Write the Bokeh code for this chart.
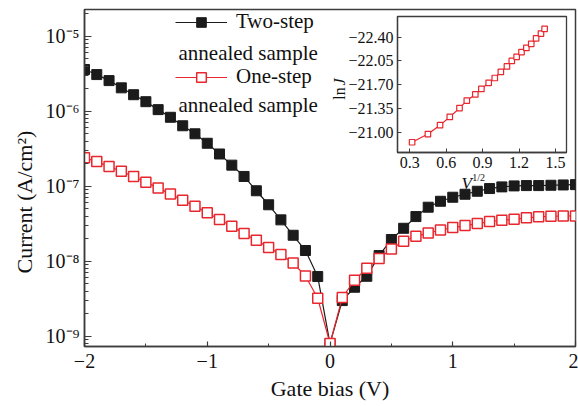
from bokeh.plotting import figure
from bokeh.models import (Range1d, FixedTicker, CustomJSTickFormatter, Legend, LegendItem,
                          Label, GridBox, Title)
from bokeh.embed import file_html
from bokeh.resources import INLINE
import math

# ---------------- data ----------------
bias = [-2.0, -1.9, -1.8, -1.7, -1.6, -1.5, -1.4, -1.3, -1.2, -1.1, -1.0,
        -0.9, -0.8, -0.7, -0.6, -0.5, -0.4, -0.3, -0.2, -0.1, 0.0,
        0.1, 0.2, 0.3, 0.4, 0.5, 0.6, 0.7, 0.8, 0.9, 1.0,
        1.1, 1.2, 1.3, 1.4, 1.5, 1.6, 1.7, 1.8, 1.9, 2.0]
two_step = [3.60e-6, 3.08e-6, 2.56e-6, 2.05e-6, 1.66e-6, 1.34e-6, 1.05e-6, 8.3e-7, 6.4e-7, 5.0e-7,
            3.74e-7, 2.69e-7, 1.91e-7, 1.35e-7, 8.7e-8, 5.66e-8, 3.56e-8, 2.22e-8, 1.39e-8, 6.25e-9,
            8.0e-10,
            2.99e-9, 4.5e-9, 6.3e-9, 1.19e-8, 1.95e-8, 2.75e-8, 3.94e-8, 5.25e-8, 6.3e-8, 7.13e-8,
            7.82e-8, 8.57e-8, 9.31e-8, 9.8e-8, 1.01e-7, 1.02e-7, 1.02e-7, 1.03e-7, 1.04e-7, 1.05e-7]
one_step = [2.39e-7, 2.13e-7, 1.83e-7, 1.58e-7, 1.35e-7, 1.13e-7, 9.5e-8, 7.85e-8, 6.49e-8, 5.4e-8,
            4.42e-8, 3.6e-8, 2.92e-8, 2.34e-8, 1.9e-8, 1.53e-8, 1.23e-8, 9.46e-9, 6.35e-9, 3.21e-9,
            8.0e-10,
            3.28e-9, 5.58e-9, 8.07e-9, 1.09e-8, 1.46e-8, 1.85e-8, 2.15e-8, 2.38e-8, 2.61e-8, 2.81e-8,
            2.99e-8, 3.18e-8, 3.38e-8, 3.52e-8, 3.63e-8, 3.79e-8, 3.91e-8, 3.98e-8, 4.01e-8, 4.02e-8]

sqrt_v = [0.32, 0.45, 0.55, 0.63, 0.71, 0.77, 0.84, 0.89, 0.95, 1.00,
          1.05, 1.10, 1.14, 1.18, 1.22, 1.26, 1.30, 1.34, 1.38, 1.41]
ln_j = [-20.86, -20.98, -21.11, -21.23, -21.36, -21.47, -21.56, -21.64, -21.73, -21.80,
        -21.89, -21.97, -22.05, -22.11, -22.18, -22.24, -22.30, -22.38, -22.45, -22.52]

x_ticks = [-2, -1, 0, 1, 2]
x_tick_labels = ["\u22122", "\u22121", "0", "1", "2"]
x_minor = [-1.5, -0.5, 0.5, 1.5]
y_ticks = [1e-9, 1e-8, 1e-7, 1e-6, 1e-5]
y_tick_labels = ["10\u207b\u2079", "10\u207b\u2078", "10\u207b\u2077", "10\u207b\u2076", "10\u207b\u2075"]
inset_x_ticks = [0.3, 0.6, 0.9, 1.2, 1.5]
inset_x_labels = ["0.3", "0.6", "0.9", "1.2", "1.5"]
inset_y_ticks = [-22.40, -22.05, -21.70, -21.35, -21.00]
inset_y_labels = ["\u221222.40", "\u221222.05", "\u221221.70", "\u221221.35", "\u221221.00"]

# ---------------- style ----------------
SERIF = "Liberation Serif"
BLACK = "#1b1b1b"
RED = "#e8262d"
AXIS = "#3c3c3c"
TXT = "#111111"

LOOKUP = """
for (let i = 0; i < vals.length; i++) {
  if (Math.abs(vals[i] - tick) < 1e-9 * Math.max(1, Math.abs(tick)) ||
      (tick > 0 && vals[i] > 0 && Math.abs(Math.log10(tick) - Math.log10(vals[i])) < 1e-6)) {
    return labels[i];
  }
}
return "";
"""

p = figure(width=578, height=406, x_range=Range1d(-2, 2), y_range=Range1d(7.3e-10, 2.27e-5),
           y_axis_type="log", output_backend="svg", toolbar_location=None,
           min_border_left=84, min_border_right=3, min_border_top=9, min_border_bottom=60)
p.grid.visible = False
p.outline_line_color = AXIS
p.outline_line_width = 1.5

decade_minor = [m * 10.0 ** e for e in range(-10, -4) for m in range(2, 10)]
p.xaxis.ticker = FixedTicker(ticks=x_ticks, minor_ticks=x_minor)
p.xaxis.formatter = CustomJSTickFormatter(args=dict(vals=x_ticks, labels=x_tick_labels), code=LOOKUP)
p.yaxis.ticker = FixedTicker(ticks=y_ticks, minor_ticks=decade_minor)
p.yaxis.formatter = CustomJSTickFormatter(args=dict(vals=y_ticks, labels=y_tick_labels), code=LOOKUP)

for ax in (p.xaxis[0], p.yaxis[0]):
    ax.axis_line_color = AXIS
    ax.axis_line_width = 1.5
    ax.major_tick_line_color = AXIS
    ax.minor_tick_line_color = AXIS
    ax.major_tick_line_width = 1.2
    ax.minor_tick_line_width = 1.0
    ax.major_tick_out = 0
    ax.minor_tick_out = 0
    ax.major_label_text_font = SERIF
    ax.major_label_text_font_size = "20px"
    ax.major_label_text_color = TXT
    ax.axis_label_text_font = SERIF
    ax.axis_label_text_font_size = "22px"
    ax.axis_label_text_font_style = "normal"
    ax.axis_label_text_color = TXT

p.xaxis.major_tick_in = 5
p.xaxis.minor_tick_in = 3
p.yaxis.major_tick_in = 7
p.yaxis.minor_tick_in = 4
p.xaxis.major_label_standoff = 7
p.yaxis.major_label_standoff = 5
p.xaxis.axis_label = "Gate bias (V)"
p.xaxis.axis_label_standoff = 5

# y-axis title, placed lower than centre as in the reference
p.add_layout(Title(text="Current (A/cm\u00b2)", align="left", offset=73, standoff=12,
                   text_font=SERIF, text_font_size="22px", text_font_style="normal",
                   text_color=TXT), "left")

r1l = p.line(bias, two_step, line_color=BLACK, line_width=1.2)
r1m = p.scatter(bias, two_step, marker="square", size=10, fill_color=BLACK, line_color=BLACK)
r2l = p.line(bias, one_step, line_color=RED, line_width=1.2)
r2m = p.scatter(bias, one_step, marker="square", size=10, fill_color="white",
                line_color=RED, line_width=1.5)

legend = Legend(items=[LegendItem(label="Two-step", renderers=[r1l, r1m]),
                       LegendItem(label="One-step", renderers=[r2l, r2m])],
                location=(91, 257), orientation="vertical",
                glyph_width=52, glyph_height=24, label_height=24, label_standoff=9,
                spacing=30, padding=0, margin=0,
                border_line_alpha=0, background_fill_alpha=0,
                label_text_font=SERIF, label_text_font_size="21px", label_text_color=TXT)
p.add_layout(legend, "center")
for yy in (293.8, 241.3):
    p.add_layout(Label(x=94, y=yy, x_units="screen", y_units="screen", text="annealed sample",
                       text_font=SERIF, text_font_size="21px", text_color=TXT,
                       text_baseline="middle", text_align="left"))

# inset axis titles (drawn on the main figure, where they lie inside its frame)
p.add_layout(Label(x=377, y=162.7, x_units="screen", y_units="screen", text="V",
                   text_font=SERIF, text_font_size="17px", text_font_style="italic",
                   text_color=TXT, text_baseline="alphabetic"))
p.add_layout(Label(x=387.7, y=169.3, x_units="screen", y_units="screen", text="1/2",
                   text_font=SERIF, text_font_size="10px", text_color=TXT,
                   text_baseline="alphabetic"))
p.add_layout(Label(x=255.3, y=246.7, x_units="screen", y_units="screen", text="ln",
                   text_font=SERIF, text_font_size="16px", text_color=TXT,
                   text_baseline="alphabetic", angle=math.pi / 2))
p.add_layout(Label(x=255.3, y=261, x_units="screen", y_units="screen", text="J",
                   text_font=SERIF, text_font_size="16px", text_font_style="italic",
                   text_color=TXT, text_baseline="alphabetic", angle=math.pi / 2))

# ---------------- inset ----------------
ins = figure(width=252, height=175, x_range=Range1d(0.20, 1.59), y_range=Range1d(-20.71, -22.70),
             output_backend="svg", toolbar_location=None,
             min_border_left=77, min_border_right=6, min_border_top=5, min_border_bottom=34,
             border_fill_alpha=0, background_fill_color="white")
ins.grid.visible = False
ins.outline_line_color = AXIS
ins.outline_line_width = 1.3
ins.xaxis.ticker = FixedTicker(ticks=inset_x_ticks, minor_ticks=[])
ins.xaxis.formatter = CustomJSTickFormatter(args=dict(vals=inset_x_ticks, labels=inset_x_labels), code=LOOKUP)
ins.yaxis.ticker = FixedTicker(ticks=inset_y_ticks, minor_ticks=[])
ins.yaxis.formatter = CustomJSTickFormatter(args=dict(vals=inset_y_ticks, labels=inset_y_labels), code=LOOKUP)
for ax in (ins.xaxis[0], ins.yaxis[0]):
    ax.axis_line_color = AXIS
    ax.axis_line_width = 1.3
    ax.major_tick_line_color = AXIS
    ax.major_tick_in = 4
    ax.major_tick_out = 0
    ax.minor_tick_in = 0
    ax.minor_tick_out = 0
    ax.major_label_text_font = SERIF
    ax.major_label_text_font_size = "16px"
    ax.major_label_text_color = TXT
    ax.major_label_standoff = 4

ins.line(sqrt_v, ln_j, line_color=RED, line_width=1.2)
ins.scatter(sqrt_v, ln_j, marker="square", size=5.5, fill_color="white", line_color=RED, line_width=1.2)

layout = GridBox(children=[(p, 0, 0, 3, 3), (ins, 1, 1, 1, 1)],
                 rows=["11px", "175px", "220px"], cols=["320px", "252px", "6px"], spacing=0)

open("out.html", "w").write(file_html(layout, INLINE))
